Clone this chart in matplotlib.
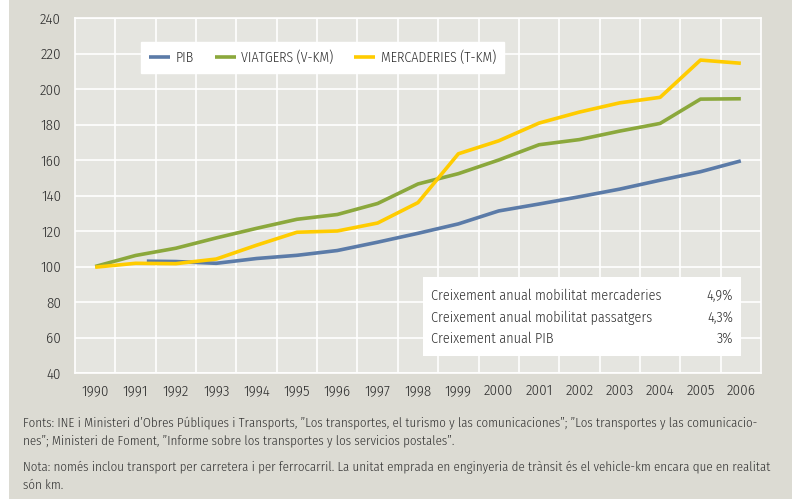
import matplotlib.pyplot as plt
from matplotlib.patches import Rectangle

plt.rcParams['font.family'] = ['Fira Sans Condensed', 'DejaVu Sans']
plt.rcParams['font.stretch'] = 'condensed'
plt.rcParams['font.weight'] = 300

years = list(range(1990, 2007))
year_labels = [str(y) for y in years]

# index 1990 = 100
viatgers = [100, 106.2, 110.3, 116.1, 121.5, 126.6, 129.3, 135.5, 146.5, 152.3,
            160.0, 168.6, 171.5, 176.3, 180.6, 194.3, 194.5]
mercaderies = [99.6, 101.8, 101.6, 104.2, 112.0, 119.3, 120.0, 124.5, 136.0, 163.5,
               170.8, 180.8, 187.0, 192.2, 195.3, 216.3, 214.5]
pib_years = [1991.28, 1992, 1993, 1994, 1995, 1996, 1997, 1998, 1999, 2000,
             2001, 2002, 2003, 2004, 2005, 2006]
pib = [103.0, 102.8, 101.8, 104.5, 106.3, 109.0, 113.7, 118.7, 124.0, 131.3,
       135.2, 139.3, 143.6, 148.6, 153.4, 159.5]

taxes_labels = ['Creixement anual mobilitat mercaderies',
                'Creixement anual mobilitat passatgers',
                'Creixement anual PIB']
taxes_values = ['4,9%', '4,3%', '3%']

c_pib = '#5b7ba8'
c_via = '#8ba83c'
c_mer = '#ffcc00'
bg_out = '#dcdbd3'
bg_plot = '#e5e5e0'
txt_col = '#2e2e2e'

fig = plt.figure(figsize=(7.92, 5.01), dpi=100, facecolor='white')
fig.patches.append(Rectangle((9/792, 2/501), 1, 1, transform=fig.transFigure,
                             facecolor=bg_out, edgecolor='none', zorder=-10))

ax = fig.add_axes([75/792, 1 - 373/501, 686/792, 355/501])
ax.set_facecolor(bg_plot)

ax.plot(pib_years, pib, color=c_pib, lw=2.6, label='PIB', solid_capstyle='butt')
ax.plot(years, viatgers, color=c_via, lw=2.6, label='VIATGERS (V-KM)', solid_capstyle='butt')
ax.plot(years, mercaderies, color=c_mer, lw=2.6, label='MERCADERIES (T-KM)', solid_capstyle='butt')

ax.set_xlim(1989.5, 2006.5)
ax.set_ylim(40, 240)
ax.set_xticks(years)
ax.set_xticklabels(year_labels)
ax.set_xticks([y + 0.5 for y in years[:-1]], minor=True)
ax.set_yticks(range(40, 241, 20))
ax.grid(which='minor', axis='x', color='white', lw=1.2)
ax.grid(which='major', axis='y', color='white', lw=1.2)
ax.set_axisbelow(True)
ax.tick_params(which='both', length=0, labelsize=10.8, colors=txt_col)
ax.tick_params(axis='x', pad=8)
ax.tick_params(axis='y', pad=10)
for s in ax.spines.values():
    s.set_color('white')
    s.set_linewidth(1.2)

leg = ax.legend(loc='upper left', bbox_to_anchor=((141 - 75) / 686, (373 - 42) / 355),
                ncol=3, frameon=True, fancybox=False, framealpha=1,
                edgecolor='white', fontsize=10, handlelength=1.5,
                columnspacing=1.5, borderpad=0.6, handletextpad=0.4,
                borderaxespad=0)
for t in leg.get_texts():
    t.set_color(txt_col)

# growth box
ax.add_patch(Rectangle(((423 - 75) / 686, (373 - 356) / 355), (741 - 423) / 686, (356 - 277) / 355,
                       transform=ax.transAxes, facecolor='white', edgecolor='none', zorder=3))
for i, (lab, val) in enumerate(zip(taxes_labels, taxes_values)):
    yy = (373 - (296 + i * 21.5)) / 355
    ax.text((431 - 75) / 686, yy, lab, transform=ax.transAxes, fontsize=10.2,
            color=txt_col, va='center', ha='left', zorder=4)
    ax.text((733 - 75) / 686, yy, val, transform=ax.transAxes, fontsize=10.2,
            color=txt_col, va='center', ha='right', zorder=4)

notes = [
    (423, 'Fonts: INE i Ministeri d\u2019Obres P\u00fabliques i Transports, \u201dLos transportes, el turismo y las comunicaciones\u201d; \u201dLos transportes y las comunicacio-'),
    (441, 'nes\u201d; Ministeri de Foment, \u201dInforme sobre los transportes y los servicios postales\u201d.'),
    (467, 'Nota: nom\u00e9s inclou transport per carretera i per ferrocarril. La unitat emprada en enginyeria de tr\u00e0nsit \u00e9s el vehicle-km encara que en realitat'),
    (485, 's\u00f3n km.'),
]
for ypx, txt in notes:
    fig.text(23 / 792, 1 - ypx / 501, txt, fontsize=9.3, color=txt_col, va='center', ha='left')

fig.savefig('out.png', dpi=100, facecolor=fig.get_facecolor())
